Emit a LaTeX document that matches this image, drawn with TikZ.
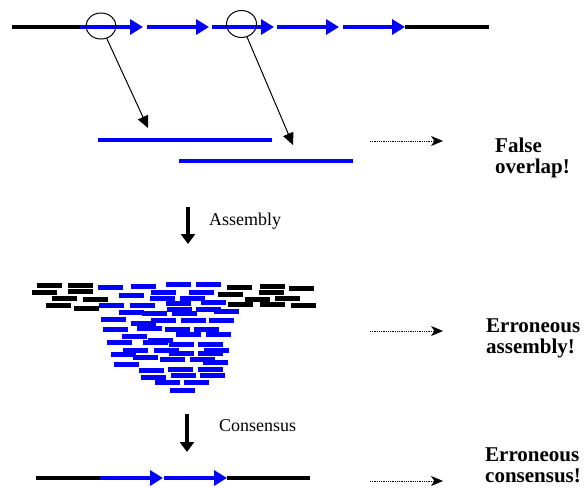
\documentclass[tikz,border=0pt]{standalone}
\usepackage{fontspec}
\setmainfont{Liberation Serif}
\usetikzlibrary{arrows.meta,shapes.geometric}
\definecolor{rblue}{RGB}{0,0,255}
\begin{document}
\begin{tikzpicture}[x=1pt,y=-1pt,
  blk/.style={line width=4pt, black},
  bluearr/.style={line width=3.3pt, rblue, -{Triangle[length=13pt,width=15pt]}},
  readline/.style={line width=4.7pt, rblue},
  ptr/.style={line width=1pt, -{Triangle[length=12pt,width=11pt]}},
  dotarr/.style={line width=1pt, dash pattern=on 1pt off 0.8pt, -{Stealth[length=12pt,width=10pt,inset=3.5pt]}},
  downarr/.style={line width=4pt, -{Triangle[length=10pt,width=14pt]}},
  lbl/.style={font=\fontsize{18}{21}\selectfont, anchor=base west, inner sep=0pt},
  boldlbl/.style={font=\fontsize{21}{21}\selectfont\bfseries, anchor=base west, align=left, inner sep=0pt},
  lens/.style={draw, ellipse, inner sep=0pt, line width=1pt},
]
\useasboundingbox (0,0) rectangle (585,487);

% ---- top genome with repeats
\coordinate (g0) at (12,27);
\coordinate (g1) at (80,27);
\coordinate (g2) at (143,27);
\coordinate (g3) at (147,27);
\coordinate (g4) at (209,27);
\coordinate (g5) at (212,27);
\coordinate (g6) at (274,27);
\coordinate (g7) at (277,27);
\coordinate (g8) at (339,27);
\coordinate (g9) at (343,27);
\coordinate (g10) at (405,27);
\coordinate (g11) at (489,27);
\draw[blk] (g0) -- (g1);
\draw[bluearr] (g1) -- (g2);
\draw[bluearr] (g3) -- (g4);
\draw[bluearr] (g5) -- (g6);
\draw[bluearr] (g7) -- (g8);
\draw[bluearr] (g9) -- (g10);
\draw[blk] (g10) -- (g11);

\node[lens, minimum width=30pt, minimum height=26pt] (c1) at (101,26) {};
\node[lens, minimum width=30pt, minimum height=27pt] (c2) at (241.5,24) {};

% ---- reads
\coordinate (r1a) at (98,140);
\coordinate (r1b) at (272,140);
\coordinate (r2a) at (179,161);
\coordinate (r2b) at (353,161);
\draw[readline] (r1a) -- (r1b);
\draw[readline] (r2a) -- (r2b);

\coordinate (t1) at (148,128);
\coordinate (t2) at (293,145);
\draw[ptr] (c1) -- (t1);
\draw[ptr] (c2) -- (t2);

% ---- false overlap
\coordinate (d1a) at (370,141);
\coordinate (d1b) at (443,141);
\draw[dotarr] (d1a) -- (d1b);
\node[boldlbl] (fo) at (495,173) {False\\overlap!};

% ---- assembly arrow
\coordinate (a1a) at (188,207);
\coordinate (a1b) at (188,244);
\draw[downarr] (a1a) -- (a1b);
\node[lbl] (asm) at (209,225) {Assembly};

% ---- pile of reads
\foreach \x/\y in {37/283.3, 68/283.3, 32/290, 68/289, 52/296, 83/297, 46/303, 74/306,
  227/285, 260/284, 289/286, 218/292, 259/290, 245/297, 275/296, 228/302, 260/302, 291/303}
  \fill[black] (\x,\y) rectangle ++(25,4.7);
\foreach \x/\y in {98/285, 131/284, 166/282, 196/282, 119/293, 151/290, 189/290, 150/296,
  180/296, 166/301, 201/300, 99/303, 130/303, 167/307, 196/307, 214/309, 119/310, 142/311,
  172/311, 101/317, 151/318, 181/318, 209/318, 131/321, 103/327, 137/326, 165/327, 194/327,
  176/332, 206/332, 122/334, 148/338, 143/340, 107/340, 169/342, 198/342, 123/348, 154/348,
  204/348, 111/352, 169/351, 198/351, 133/355, 160/357, 190/357, 203/360, 114/362, 139/368,
  168/367, 198/367, 171/373, 200/373, 141/375, 155/380, 184/380, 170/388}
  \fill[rblue] (\x,\y) rectangle ++(25,4.7);

\coordinate (d2a) at (370,331);
\coordinate (d2b) at (443,331);
\draw[dotarr] (d2a) -- (d2b);
\node[boldlbl] (ea) at (486,353) {Erroneous\\assembly!};

% ---- consensus arrow
\coordinate (a2a) at (187,414);
\coordinate (a2b) at (187,452);
\draw[downarr] (a2a) -- (a2b);
\node[lbl] (cns) at (219,431) {Consensus};

% ---- consensus sequence
\coordinate (s0) at (36,478);
\coordinate (s1) at (100,478);
\coordinate (s2) at (163,478);
\coordinate (s3) at (164,478);
\coordinate (s4) at (227,478);
\coordinate (s5) at (310,478);
\draw[blk] (s0) -- (s1);
\draw[bluearr] (s1) -- (s2);
\draw[bluearr] (s3) -- (s4);
\draw[blk] (s4) -- (s5);

\coordinate (d3a) at (370,481);
\coordinate (d3b) at (443,481);
\draw[dotarr] (d3a) -- (d3b);
\node[boldlbl] (ec) at (485,482) {Erroneous\\consensus!};
\end{tikzpicture}
\end{document}
